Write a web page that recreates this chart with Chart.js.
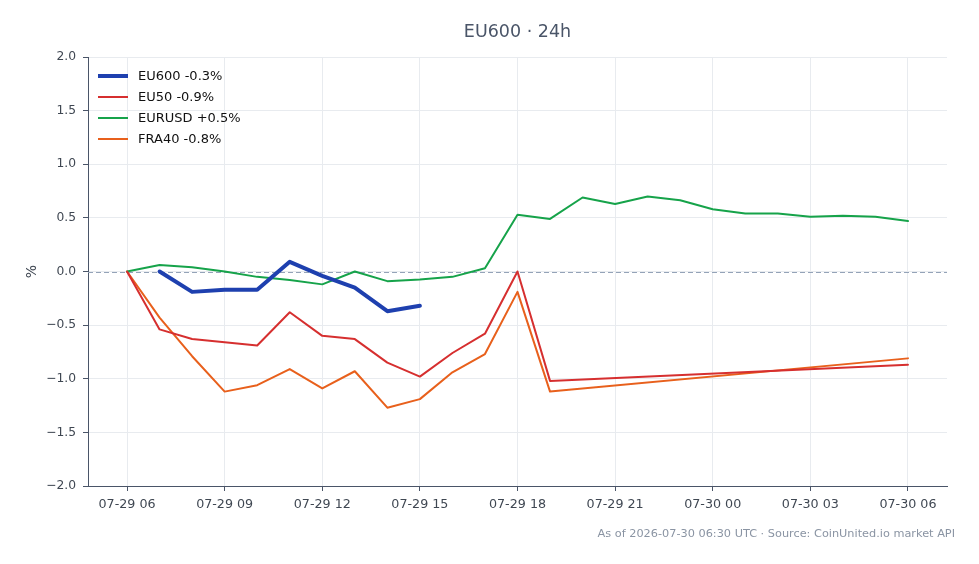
<!DOCTYPE html>
<html>
<head>
<meta charset="utf-8">
<script src="https://cdn.jsdelivr.net/npm/chart.js@4.4.1/dist/chart.umd.min.js"></script>
<style>
  html, body { margin: 0; padding: 0; background: #ffffff; }
  #wrap { width: 979px; height: 564px; }
</style>
</head>
<body>
<div id="wrap"><canvas id="c" width="979" height="564"></canvas></div>
<script>
// ---- data ----
const hours = ['07-29 06','07-29 07','07-29 08','07-29 09','07-29 10','07-29 11','07-29 12','07-29 13',
  '07-29 14','07-29 15','07-29 16','07-29 17','07-29 18','07-29 19','07-29 20','07-29 21','07-29 22',
  '07-29 23','07-30 00','07-30 01','07-30 02','07-30 03','07-30 04','07-30 05','07-30 06'];
const tickLabels = ['07-29 06','07-29 09','07-29 12','07-29 15','07-29 18','07-29 21','07-30 00','07-30 03','07-30 06'];
const seriesNames = ['EU600 -0.3%', 'EU50 -0.9%', 'EURUSD +0.5%', 'FRA40 -0.8%'];
const eu600 = [null, 0.0, -0.19, -0.17, -0.17, 0.09, -0.04, -0.15, -0.37, -0.32,
  null, null, null, null, null, null, null, null, null, null, null, null, null, null, null];
const eu50 = [0, -0.54, -0.63, -0.66, -0.69, -0.38, -0.60, -0.63, -0.85, -0.98, -0.76, -0.58, 0.0, -1.02,
  null, null, null, null, null, null, null, null, null, null, -0.87];
const eurusd = [0, 0.06, 0.04, 0.0, -0.05, -0.08, -0.12, 0.0, -0.09, -0.075, -0.05, 0.03, 0.53, 0.49,
  0.69, 0.63, 0.70, 0.665, 0.58, 0.54, 0.54, 0.51, 0.52, 0.51, 0.47];
const fra40 = [0, -0.43, -0.79, -1.12, -1.06, -0.91, -1.09, -0.93, -1.27, -1.19, -0.94, -0.77, -0.19, -1.12,
  null, null, null, null, null, null, null, null, null, null, -0.81];
const yTicks = [-2, -1.5, -1, -0.5, 0, 0.5, 1, 1.5, 2];

const titleText = 'EU600 \u00b7 24h';
const footerText = 'As of 2026-07-30 06:30 UTC \u00b7 Source: CoinUnited.io market API';

// ---- build ----
const toPts = arr => arr.map((v, i) => ({ x: i, y: v }));
const colors = ['#1e40af', '#d62f2f', '#16a34a', '#e8601c'];
const widths = [4, 2, 2, 2];
const allSeries = [eu600, eu50, eurusd, fra40];

Chart.defaults.font.family = '"DejaVu Sans", sans-serif';
Chart.defaults.color = '#3f4752';

const datasets = allSeries.map((s, i) => ({
  label: seriesNames[i],
  data: toPts(s),
  borderColor: colors[i],
  backgroundColor: colors[i],
  borderWidth: widths[i],
  pointRadius: 0,
  tension: 0,
  spanGaps: true,
  borderJoinStyle: 'round',
  borderCapStyle: 'round',
  fill: false
}));

const decor = {
  id: 'decor',
  beforeDatasetsDraw(chart) {
    const { ctx, chartArea, scales } = chart;
    const y0 = scales.y.getPixelForValue(0);
    ctx.save();
    ctx.strokeStyle = '#94a3b8';
    ctx.lineWidth = 1;
    ctx.setLineDash([5, 3]);
    ctx.beginPath();
    ctx.moveTo(chartArea.left, Math.round(y0) + 0.5);
    ctx.lineTo(chartArea.right, Math.round(y0) + 0.5);
    ctx.stroke();
    ctx.restore();
  },
  afterDraw(chart) {
    const { ctx, chartArea } = chart;
    ctx.save();
    // title
    ctx.fillStyle = '#4a5568';
    ctx.font = '17.5px "DejaVu Sans", sans-serif';
    ctx.textAlign = 'center';
    ctx.textBaseline = 'middle';
    ctx.fillText(titleText, (chartArea.left + chartArea.right) / 2, 32);
    // footer
    ctx.fillStyle = '#8a94a3';
    ctx.font = '11.3px "DejaVu Sans", sans-serif';
    ctx.textAlign = 'right';
    ctx.fillText(footerText, 955, 534);
    // legend
    ctx.textAlign = 'left';
    ctx.font = '13px "DejaVu Sans", sans-serif';
    chart.data.datasets.forEach((ds, i) => {
      const y = 76 + 21 * i;
      ctx.strokeStyle = ds.borderColor;
      ctx.lineWidth = ds.borderWidth;
      ctx.lineCap = 'butt';
      ctx.beginPath();
      ctx.moveTo(98, y);
      ctx.lineTo(128, y);
      ctx.stroke();
      ctx.fillStyle = '#111111';
      ctx.fillText(ds.label, 138, y + 1);
    });
    ctx.restore();
  }
};

new Chart(document.getElementById('c'), {
  type: 'line',
  data: { datasets },
  options: {
    responsive: false,
    animation: false,
    layout: { padding: { top: 57, right: 32, bottom: 38, left: 0 } },
    plugins: { legend: { display: false }, title: { display: false }, tooltip: { enabled: false } },
    scales: {
      x: {
        type: 'linear',
        min: -1.2,
        max: 25.2,
        afterBuildTicks: (scale) => {
          scale.ticks = tickLabels.map(t => ({ value: hours.indexOf(t) }));
        },
        afterFit: (scale) => { scale.height = 40; },
        ticks: {
          autoSkip: false,
          maxRotation: 0,
          padding: 6,
          font: { size: 12.7 },
          color: '#3f4752',
          callback: (v) => hours[v] !== undefined ? hours[v] : ''
        },
        grid: { color: '#e8ebef', lineWidth: 1, tickLength: 5, tickColor: '#4a5568', drawTicks: true },
        border: { display: true, color: '#4a5568', width: 1 }
      },
      y: {
        min: -2,
        max: 2,
        afterBuildTicks: (scale) => { scale.ticks = yTicks.map(v => ({ value: v })); },
        afterFit: (scale) => { scale.width = 88; },
        ticks: {
          padding: 7,
          font: { size: 12.3 },
          color: '#3f4752',
          callback: (v) => (v < 0 ? '\u2212' : '') + Math.abs(v).toFixed(1)
        },
        title: { display: true, text: '%', font: { size: 14 }, color: '#3f4752', padding: { top: 24, bottom: 0 } },
        grid: { color: '#e8ebef', lineWidth: 1, tickLength: 5, tickColor: '#4a5568', drawTicks: true },
        border: { display: true, color: '#4a5568', width: 1 }
      }
    }
  },
  plugins: [decor]
});
</script>
</body>
</html>
